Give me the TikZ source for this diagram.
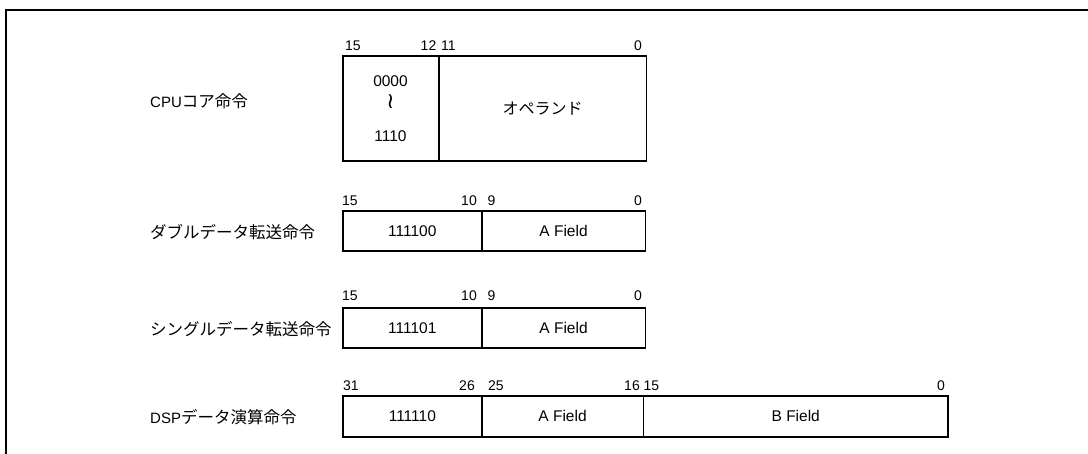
\documentclass[tikz,border=0pt]{standalone}
\usepackage{fontspec}
\setmainfont{Liberation Sans}
\newfontfamily\jp{Noto Sans CJK JP}
\newfontfamily\djv{DejaVu Sans}
\begin{document}
\begin{tikzpicture}[x=1pt,y=-1pt,
  frame/.style={line width=2pt},
  outer/.style={line width=1.8pt},
  cell/.style={draw, line width=0.7pt, inner sep=0pt, anchor=north west, font=\fontsize{15.5}{15.5}\selectfont},
  bit/.style={inner sep=0pt, font=\fontsize{14}{14}\selectfont},
  lbl/.style={inner sep=0pt, anchor=base west, font=\fontsize{15}{15}\selectfont},
  val/.style={inner sep=0pt, font=\fontsize{15.5}{15.5}\selectfont}
]
\useasboundingbox (0,0) rectangle (1088,454);
\draw[frame] (6,454) -- (6,10) -- (1088,10);

% ---- CPU core instruction
\node[lbl] (lcpu) at (150,107.5) {CPU{\jp\fontsize{16.5}{16.5}\selectfont コア命令}};
\node[cell, minimum width=95pt, minimum height=104pt] (cpuA) at (343,56) {};
\node[cell, minimum width=207pt, minimum height=104pt] (cpuB) at (cpuA.north east) {\jp\fontsize{16}{16}\selectfont オペランド};
\draw[outer] (cpuA.north west) rectangle (cpuB.south east);
\node[val, anchor=base] (cv1) at (390.5,87) {0000};
\node[val] (cv2) at (390.5,102) {\djv\fontsize{22}{22}\selectfont ≀};
\node[val, anchor=base] (cv3) at (390.5,142) {1110};
\node[bit, anchor=base west] (c15) at (345,51) {15};
\node[bit, anchor=base east] (c12) at (436.5,51) {12};
\node[bit, anchor=base west] (c11) at (441,51) {11};
\node[bit, anchor=base east] (c0) at (642,51) {0};

% ---- double data transfer
\node[lbl] (ldbl) at (150,238.5) {\jp\fontsize{16.5}{16.5}\selectfont ダブルデータ転送命令};
\node[cell, minimum width=138pt, minimum height=39pt] (dA) at (343,211) {111100};
\node[cell, minimum width=163pt, minimum height=39pt] (dB) at (dA.north east) {A Field};
\draw[outer] (dA.north west) rectangle (dB.south east);
\node[bit, anchor=base west] (d15) at (342,206) {15};
\node[bit, anchor=base east] (d10) at (477,206) {10};
\node[bit, anchor=base west] (d9) at (487.5,206) {9};
\node[bit, anchor=base east] (d0) at (642,206) {0};

% ---- single data transfer
\node[lbl] (lsgl) at (150,335.5) {\jp\fontsize{16.5}{16.5}\selectfont シングルデータ転送命令};
\node[cell, minimum width=138pt, minimum height=39pt] (sA) at (343,308) {111101};
\node[cell, minimum width=163pt, minimum height=39pt] (sB) at (sA.north east) {A Field};
\draw[outer] (sA.north west) rectangle (sB.south east);
\node[bit, anchor=base west] (s15) at (342,301) {15};
\node[bit, anchor=base east] (s10) at (477,301) {10};
\node[bit, anchor=base west] (s9) at (487.5,301) {9};
\node[bit, anchor=base east] (s0) at (642,301) {0};

% ---- DSP data operation
\node[lbl] (ldsp) at (150,424) {DSP{\jp\fontsize{16.5}{16.5}\selectfont データ演算命令}};
\node[cell, minimum width=138pt, minimum height=40pt] (pA) at (343,396) {111110};
\node[cell, minimum width=161pt, minimum height=40pt] (pB) at (pA.north east) {A Field};
\node[cell, minimum width=304pt, minimum height=40pt] (pC) at (pB.north east) {B Field};
\draw[outer] (pA.north west) rectangle (pC.south east);
\node[bit, anchor=base west] (p31) at (343,391) {31};
\node[bit, anchor=base east] (p26) at (475,391) {26};
\node[bit, anchor=base west] (p25) at (488,391) {25};
\node[bit, anchor=base east] (p16) at (640,391) {16};
\node[bit, anchor=base west] (p15) at (643.5,391) {15};
\node[bit, anchor=base east] (p0) at (945,391) {0};
\end{tikzpicture}
\end{document}
